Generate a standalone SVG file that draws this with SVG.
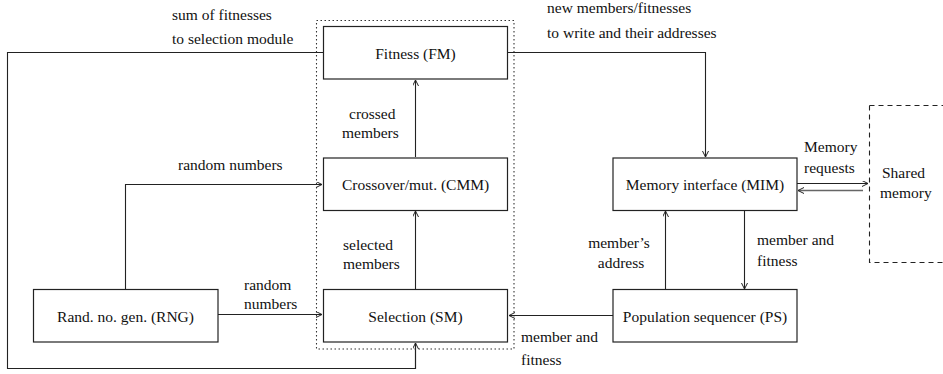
<svg xmlns="http://www.w3.org/2000/svg" width="943" height="374" viewBox="0 0 943 374">
<style>
text{font-family:"Liberation Serif","Times New Roman",serif;font-size:15.5px;fill:#111}
.c{text-anchor:middle}
.box{fill:#fff;stroke:#222;stroke-width:1.2}
.ln{fill:none;stroke:#222;stroke-width:1.1}
.ar{marker-end:url(#a)}
</style>
<defs>
<marker id="a" markerWidth="8" markerHeight="8" refX="6" refY="3" orient="auto" markerUnits="userSpaceOnUse">
<path d="M0,0 L6,3 L0,6" fill="none" stroke="#222" stroke-width="1"/>
</marker>
</defs>
<rect x="316.5" y="20.5" width="197.5" height="328.5" fill="none" stroke="#333" stroke-width="1.1" stroke-dasharray="1.5,2.5"/>
<path d="M869.5 105.5 H943 M869.5 105.5 V262.5 H943" fill="none" stroke="#222" stroke-width="1.1" stroke-dasharray="5,4"/>
<g id="connectors">
<path class="ln" d="M323 52.5 H7.5 V368.5 H415.5 V343"/>
<path class="ln ar" d="M415.5 369 V343"/>
<path class="ln ar" d="M415.5 289 V211"/>
<path class="ln ar" d="M415.5 157 V80"/>
<path class="ln ar" d="M125.5 289.5 V184.5 H322"/>
<path class="ln ar" d="M218 314.5 H322"/>
<path class="ln ar" d="M613 315.5 H509"/>
<path class="ln ar" d="M508 52.5 H705.5 V157"/>
<path class="ln ar" d="M665.5 289.5 V211"/>
<path class="ln ar" d="M744.5 210.5 V289"/>
<path class="ln ar" d="M797 183.5 H868"/>
<path d="M863 190.5 H798" fill="none" stroke="#666" stroke-width="1.6" marker-end="url(#a)"/>
</g>
<g id="fm"><rect class="box" x="323.5" y="26.5" width="184" height="52.5"/><text class="c" x="415.5" y="59">Fitness (FM)</text></g>
<g id="cmm"><rect class="box" x="323.5" y="158" width="184" height="52.5"/><text class="c" x="415.5" y="190">Crossover/mut. (CMM)</text></g>
<g id="sm"><rect class="box" x="323.5" y="289.5" width="184" height="52.5"/><text class="c" x="415.5" y="321.5">Selection (SM)</text></g>
<g id="rng"><rect class="box" x="33.5" y="289.5" width="184.5" height="52.5"/><text class="c" x="125.5" y="321.5">Rand. no. gen. (RNG)</text></g>
<g id="mim"><rect class="box" x="613" y="158" width="184" height="52.5"/><text class="c" x="705" y="190">Memory interface (MIM)</text></g>
<g id="ps"><rect class="box" x="613" y="289.5" width="184" height="52.5"/><text class="c" x="705" y="321.5">Population sequencer (PS)</text></g>
<g id="shared"><text x="882" y="178">Shared</text><text x="880" y="198">memory</text></g>
<g id="labels">
<text x="172" y="20">sum of fitnesses</text>
<text x="172" y="44">to selection module</text>
<text x="547" y="13">new members/fitnesses</text>
<text x="547" y="38">to write and their addresses</text>
<text x="349" y="119">crossed</text>
<text x="342" y="138">members</text>
<text x="178" y="170">random numbers</text>
<text x="343" y="250">selected</text>
<text x="343" y="269">members</text>
<text x="244" y="290">random</text>
<text x="244" y="309">numbers</text>
<text x="804" y="152">Memory</text>
<text x="804" y="173">requests</text>
<text class="c" x="619" y="248">member’s</text>
<text class="c" x="621" y="268">address</text>
<text x="757" y="245">member and</text>
<text x="757" y="266">fitness</text>
<text x="521" y="342">member and</text>
<text x="521" y="365">fitness</text>
</g>
</svg>
